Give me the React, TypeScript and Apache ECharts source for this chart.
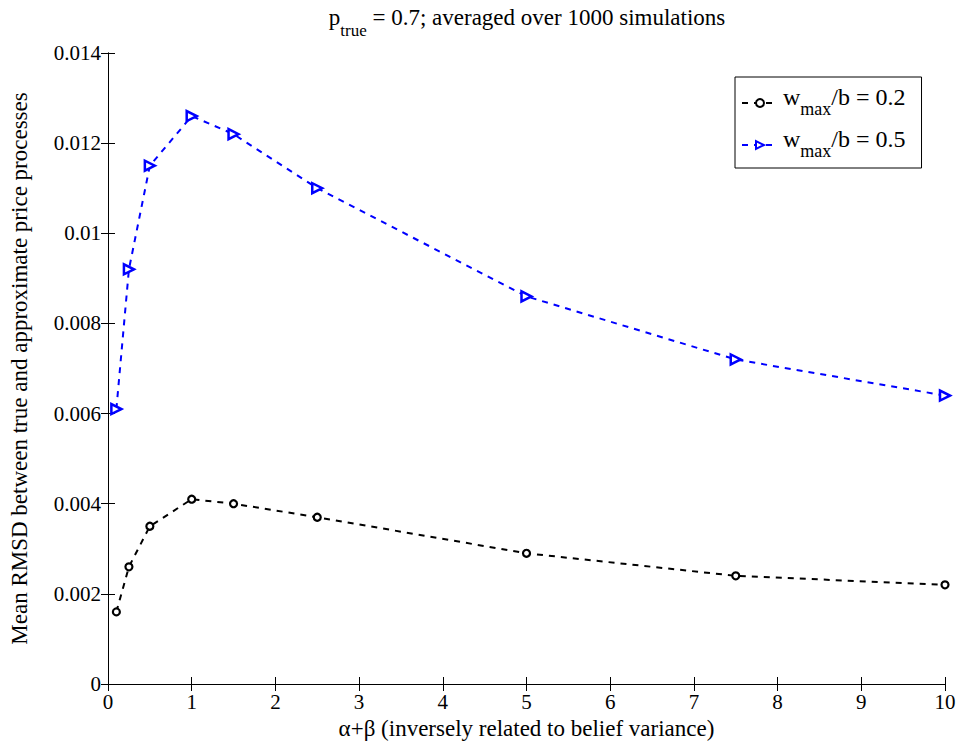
import React, { useEffect, useRef } from "react";
import * as echarts from "echarts";

const xValues = [0.1, 0.25, 0.5, 1, 1.5, 2.5, 5, 7.5, 10];
const series02 = [0.0016, 0.0026, 0.0035, 0.0041, 0.004, 0.0037, 0.0029, 0.0024, 0.0022];
const series05 = [0.0061, 0.0092, 0.0115, 0.0126, 0.0122, 0.011, 0.0086, 0.0072, 0.0064];
const seriesNames = ["w_max/b = 0.2", "w_max/b = 0.5"];
const yTickLabels: Record<string, string> = {
  "0": "0", "0.002": "0.002", "0.004": "0.004", "0.006": "0.006",
  "0.008": "0.008", "0.01": "0.01", "0.012": "0.012", "0.014": "0.014",
};

const FONT = "Liberation Serif";

export default function App() {
  const ref = useRef<HTMLDivElement>(null);
  useEffect(() => {
    if (!ref.current) return;
    document.body.style.margin = "0";
    const chart = echarts.init(ref.current, undefined, { renderer: "svg" });
    const axisCommon = {
      axisLine: { show: true, lineStyle: { color: "#000", width: 1 } },
      axisTick: { show: true, inside: true, length: 7, lineStyle: { color: "#000" } },
      splitLine: { show: false },
    };
    chart.setOption({
      animation: false,
      backgroundColor: "#fff",
      title: {
        text: "{n|p}{s|true}{n| = 0.7; averaged over 1000 simulations}",
        left: 522,
        textAlign: "center",
        top: 1,
        textStyle: {
          fontWeight: "normal",
          rich: {
            n: { fontFamily: FONT, fontSize: 23, fontWeight: "normal", color: "#000", lineHeight: 28, verticalAlign: "top" },
            s: { fontFamily: FONT, fontSize: 17, fontWeight: "normal", color: "#000", lineHeight: 28, padding: [16, 0, 0, 0], verticalAlign: "top" },
          },
        },
      },
      legend: {
        left: 735,
        top: 77,
        orient: "vertical",
        backgroundColor: "#fff",
        borderColor: "#000",
        borderWidth: 1,
        borderRadius: 0,
        padding: [8, 16, 8, 6],
        itemGap: 9,
        itemWidth: 36,
        itemHeight: 10,
        data: seriesNames,
        formatter: (name: string) => {
          const tail = name.split("w_max")[1];
          return "{n|w}{s|max}{n|" + tail + "}";
        },
        textStyle: {
          rich: {
            n: { fontFamily: FONT, fontSize: 24, color: "#000", lineHeight: 36, verticalAlign: "top" },
            s: { fontFamily: FONT, fontSize: 18, color: "#000", lineHeight: 36, padding: [15, 0, 0, 0], verticalAlign: "top" },
          },
        },
      },
      grid: { left: 107, right: 16, top: 53, bottom: 69, containLabel: false },
      xAxis: [
        {
          type: "value",
          min: 0,
          max: 10,
          interval: 1,
          name: "α+β (inversely related to belief variance)",
          nameLocation: "middle",
          nameGap: 32,
          nameTextStyle: { fontFamily: FONT, fontSize: 23, color: "#000" },
          axisLabel: { fontFamily: FONT, fontSize: 21, color: "#000", margin: 7 },
          ...axisCommon,
        },
        {
          type: "value",
          position: "top",
          min: 0,
          max: 10,
          interval: 1,
          axisLabel: { show: false },
          ...axisCommon,
        },
      ],
      yAxis: [
        {
          type: "value",
          min: 0,
          max: 0.014,
          interval: 0.002,
          name: "Mean RMSD between true and approximate price processes",
          nameLocation: "middle",
          nameGap: 77,
          nameTextStyle: { fontFamily: FONT, fontSize: 23, color: "#000" },
          axisLabel: {
            fontFamily: FONT,
            fontSize: 21,
            color: "#000",
            margin: 7,
            formatter: (v: number) => yTickLabels[String(+v.toFixed(3))] ?? String(v),
          },
          ...axisCommon,
        },
        {
          type: "value",
          position: "right",
          min: 0,
          max: 0.014,
          interval: 0.002,
          axisLabel: { show: false },
          ...axisCommon,
        },
      ],
      series: [
        {
          name: seriesNames[0],
          type: "line",
          data: xValues.map((x, i) => [x, series02[i]]),
          symbol: "circle",
          symbolSize: 7,
          itemStyle: { color: "#fff", borderColor: "#000", borderWidth: 2.2 },
          lineStyle: { color: "#000", width: 2, type: [6, 6] },
          color: "#000",
        },
        {
          name: seriesNames[1],
          type: "line",
          data: xValues.map((x, i) => [x, series05[i]]),
          symbol: "triangle",
          symbolRotate: -90,
          symbolSize: 10,
          itemStyle: { color: "#fff", borderColor: "#0000ff", borderWidth: 2.5 },
          lineStyle: { color: "#0000ff", width: 2, type: [6, 6] },
          color: "#0000ff",
        },
      ],
    });
    return () => chart.dispose();
  }, []);
  return <div ref={ref} style={{ width: 961, height: 753 }} />;
}
